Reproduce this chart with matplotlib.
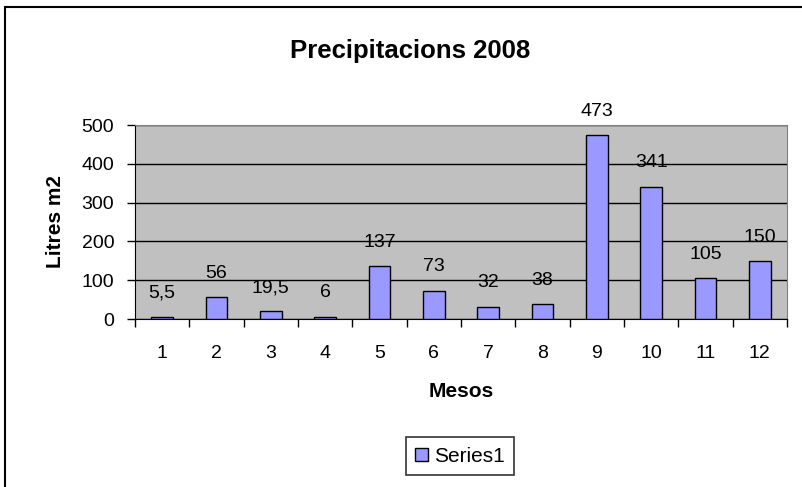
import matplotlib.pyplot as plt
from matplotlib.patches import Rectangle

plt.rcParams['font.family'] = ['Liberation Sans', 'DejaVu Sans']

mesos = [1, 2, 3, 4, 5, 6, 7, 8, 9, 10, 11, 12]
litres = [5.5, 56, 19.5, 6, 137, 73, 32, 38, 473, 341, 105, 150]
yticks = [0, 100, 200, 300, 400, 500]

fig = plt.figure(figsize=(8.02, 4.87), dpi=100)
# chart border (left and top visible)
fig.patches.append(Rectangle((5 / 802, -0.1), 1.2, 1 - 7 / 487 + 0.1,
                             transform=fig.transFigure, fill=False,
                             edgecolor='black', linewidth=1.5))

ax = fig.add_axes([135 / 802, 1 - 319 / 487, 652 / 802, 194 / 487])
ax.set_facecolor('#C0C0C0')

bars = ax.bar(mesos, litres, width=0.4, color='#9999FF',
              edgecolor='black', linewidth=1, zorder=3)
labels = [('%g' % v).replace('.', ',') for v in litres]
ax.bar_label(bars, labels=labels, padding=11, fontsize=14, zorder=4)

ax.set_xlim(0.5, 12.5)
ax.set_ylim(0, 500)
ax.set_yticks(yticks)
ax.yaxis.grid(True, color='black', linewidth=1, zorder=1)
ax.set_axisbelow(True)

ax.set_xticks(mesos)
ax.set_xticks([m + 0.5 for m in [0] + mesos], minor=True)
ax.tick_params(axis='x', which='major', length=0, pad=19, labelsize=14)
ax.tick_params(axis='x', which='minor', length=6, width=1, direction='out')
ax.tick_params(axis='y', length=6, width=1, labelsize=14, pad=9)

for s in ['top', 'right']:
    ax.spines[s].set_color('#808080')
for s in ['left', 'bottom']:
    ax.spines[s].set_color('black')

ax.set_xlabel('Mesos', fontsize=15, fontweight='bold', labelpad=14)
ax.set_ylabel('Litres m2', fontsize=15, fontweight='bold', labelpad=12)
fig.text(410 / 802, 1 - 51 / 487, 'Precipitacions 2008', ha='center', va='center',
         fontsize=18.5, fontweight='bold')

leg = ax.legend([bars], ['Series1'], loc='center',
                bbox_to_anchor=(460 / 802, 1 - 456 / 487),
                bbox_transform=fig.transFigure, fontsize=15, frameon=True,
                fancybox=False, edgecolor='black', handlelength=0.6,
                handleheight=0.6, handletextpad=0.3, borderpad=0.45)
leg.get_frame().set_linewidth(1.2)

fig.savefig('out.png', dpi=100)
